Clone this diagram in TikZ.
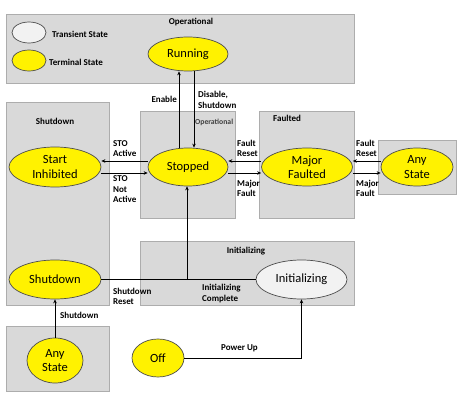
\documentclass[tikz,border=0pt]{standalone}
\usepackage{fontspec}
\setmainfont{Carlito}
\usetikzlibrary{shapes.geometric,arrows.meta}

\begin{document}
\begin{tikzpicture}
    [x=1pt, y=-1pt,
    region/.style={draw=black!32, fill=black!15, line width=0.8pt},
    terminal/.style={ellipse, draw=black!70, fill=yellow, line width=0.7pt,
      inner sep=0pt, align=center, font=\fontsize{12.5}{14.5}\selectfont},
    transient/.style={terminal, fill=black!5},
    lbl/.style={inner sep=0pt, align=left, font=\bfseries\fontsize{9}{10.5}\selectfont},
    arr/.style={-{Stealth[length=4pt,width=3.5pt]}, line width=0.9pt},
    line/.style={line width=0.9pt}]
  \useasboundingbox (0,0) rectangle (468,403);

  % regions
  \draw [region] (6,14) rectangle (354,83);
  \draw [region] (6,102) rectangle (109,305);
  \draw [region] (140,111) rectangle (235,218);
  \draw [region] (259,111) rectangle (354,218);
  \draw [region] (378,140) rectangle (456,194);
  \draw [region] (140,241) rectangle (354,305);
  \draw [region] (6,326) rectangle (109,391);

  % region titles
  \node [lbl] (topname) at (191,22) {Operational};
  \node [lbl] (shutname) at (55,121) {Shutdown};
  \node [lbl, anchor=west, text=black!75, font=\bfseries\fontsize{7.7}{8}\selectfont]
    (opname) at (195,122) {Operational};
  \node [lbl, anchor=west] (faultname) at (273,118) {Faulted};
  \node [lbl] (initname) at (246,251) {Initializing};

  % legend
  \node [transient, minimum width=34, minimum height=21] (legtrans) at (29,32.5) {};
  \node [terminal, minimum width=34, minimum height=21] (legterm) at (29,60.5) {};
  \node [lbl, anchor=west] (legtranstext) at (52,34) {Transient State};
  \node [lbl, anchor=west] (legtermtext) at (49,62) {Terminal State};

  % states
  \node [terminal, minimum width=80, minimum height=34] (running) at (188,54) {Running};
  \node [terminal, minimum width=80, minimum height=38] (stopped) at (188,167) {Stopped};
  \node [terminal, minimum width=92, minimum height=40] (startinh) at (55,167) {Start\\Inhibited};
  \node [terminal, minimum width=91, minimum height=38] (major) at (307,167) {Major\\Faulted};
  \node [terminal, minimum width=72, minimum height=38] (anyright) at (417,167) {Any\\State};
  \node [terminal, minimum width=92, minimum height=39] (shutdown) at (55,279.5) {Shutdown};
  \node [transient, minimum width=91, minimum height=39] (init) at (301.5,279.5) {Initializing};
  \node [terminal, minimum width=56, minimum height=45] (anybot) at (55,360.5) {Any\\State};
  \node [terminal, minimum width=52, minimum height=38] (off) at (158,358) {Off};

  % connectors
  \draw [arr] ([xshift=-9pt]stopped.north) -- ([xshift=-9pt]running.south);
  \draw [arr] ([xshift=6pt]running.south) -- ([xshift=6pt]stopped.north);
  \draw [arr] ([yshift=6pt]stopped.west) -- ([yshift=6pt]startinh.east);
  \draw [arr] ([yshift=-6pt]startinh.east) -- ([yshift=-6pt]stopped.west);
  \draw [arr] ([yshift=6pt]major.west) -- ([yshift=6pt]stopped.east);
  \draw [arr] ([yshift=-6pt]stopped.east) -- ([yshift=-6pt]major.west);
  \draw [arr] ([yshift=6pt]anyright.west) -- ([yshift=6pt]major.east);
  \draw [arr] ([yshift=-6pt]major.east) -- ([yshift=-6pt]anyright.west);
  \coordinate (join) at (187,279.5);
  \draw [line] (shutdown.east) -- (init.west);
  \draw [arr] (join) -- (join |- stopped.south);
  \draw [arr] (anybot.north) -- (shutdown.south);
  \draw [arr] (off.east) -| (init.south);

  % transition labels
  \node [lbl, anchor=east] (enable) at (177,99) {Enable};
  \node [lbl, anchor=west] (disable) at (198,100) {Disable,\\Shutdown};
  \node [lbl, anchor=west] (stoact) at (113,148.5) {STO\\Active};
  \node [lbl, anchor=west] (stonot) at (113,189.5) {STO\\Not\\Active};
  \node [lbl, anchor=west] (freset) at (237,148.5) {Fault\\Reset};
  \node [lbl, anchor=west] (mfault) at (237,188.5) {Major\\Fault};
  \node [lbl, anchor=west] (fresetr) at (356,148.5) {Fault\\Reset};
  \node [lbl, anchor=west] (mfaultr) at (356,188.5) {Major\\Fault};
  \node [lbl, anchor=west] (sreset) at (113,296.5) {Shutdown\\Reset};
  \node [lbl, anchor=west] (initdone) at (202,293.5) {Initializing\\Complete};
  \node [lbl, anchor=west] (shutlbl) at (60,315) {Shutdown};
  \node [lbl, anchor=west] (powerup) at (221,348) {Power Up};
\end{tikzpicture}
\end{document}
